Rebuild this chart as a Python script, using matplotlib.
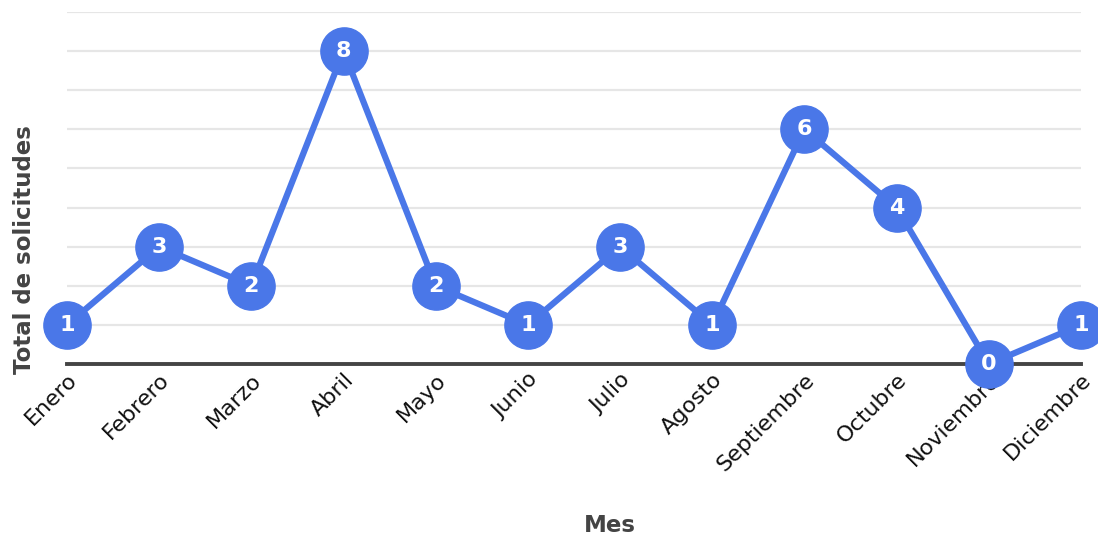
import matplotlib
matplotlib.use("Agg")
import matplotlib.pyplot as plt

meses = ["Enero", "Febrero", "Marzo", "Abril", "Mayo", "Junio", "Julio",
         "Agosto", "Septiembre", "Octubre", "Noviembre", "Diciembre"]
solicitudes = [1, 3, 2, 8, 2, 1, 3, 1, 6, 4, 0, 1]

color = "#4a77e8"
fig = plt.figure(figsize=(10.98, 5.35), dpi=100)
ax = fig.add_axes([67/1098, (535-364)/535, (1081-67)/1098, (364-12)/535])

x = list(range(len(meses)))
ax.plot(x, solicitudes, color=color, lw=4.5, marker="o", markersize=34,
        markerfacecolor=color, markeredgecolor=color, clip_on=False, zorder=4)
for xi, v in zip(x, solicitudes):
    ax.text(xi, v, str(v), color="white", fontsize=16, fontweight="bold",
            ha="center", va="center", zorder=5)

ax.set_xlim(0, len(meses) - 1)
ax.set_ylim(0, 9)
ax.set_yticks(range(1, 10))
ax.set_yticklabels([])
ax.tick_params(axis="y", length=0)
ax.grid(axis="y", color="#e6e6e6", lw=1.6)
ax.set_axisbelow(True)
for s in ["top", "right", "left"]:
    ax.spines[s].set_visible(False)
ax.spines["bottom"].set_color("#444444")
ax.spines["bottom"].set_linewidth(2.8)
ax.spines["bottom"].set_zorder(3)

ax.set_xticks(x)
ax.set_xticklabels(meses, rotation=45, ha="right", rotation_mode="anchor",
                   fontsize=16, color="#111111")
ax.tick_params(axis="x", length=0, pad=4)

ax.set_xlabel("Mes", fontsize=16.5, fontweight="bold", color="#444444")
ax.set_ylabel("Total de solicitudes", fontsize=16.5, fontweight="bold",
              color="#444444")
ax.yaxis.set_label_coords(-0.031, 0.325)
ax.xaxis.set_label_coords(0.535, -0.425)

fig.savefig("out.png", dpi=100)
